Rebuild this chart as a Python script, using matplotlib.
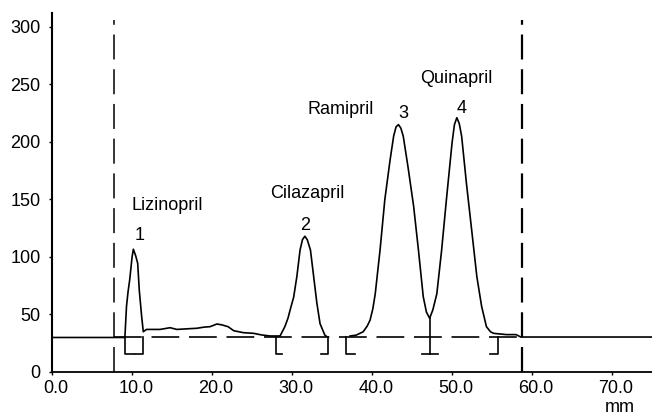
import numpy as np
import matplotlib
matplotlib.use("Agg")
import matplotlib.pyplot as plt
from matplotlib.transforms import ScaledTranslation

plt.rcParams['font.family'] = ['Liberation Sans', 'DejaVu Sans']
plt.rcParams['lines.scale_dashes'] = False

# Chromatogram trace (mm, signal); NaN breaks the trace
trace_x = [-0.05, 9.1, 9.3, 9.5, 9.7, 10.0, 10.16, 10.45, 10.7, 10.9, 11.2, 11.4, 11.8,
           12.5, 13.5, 14.75, 15.6, 16.8, 18.1, 19.0, 19.75, 20.6, 21.2, 22.0, 22.7,
           23.9, 25.2, 26.2, 27.25, 28.5, 29.1, 29.5, 29.8, 30.2, 30.6, 31.0, 31.3,
           31.6, 31.9, 32.3, 32.7, 33.1, 33.5, 34.1, 34.3, np.nan,
           37.25, 38.0, 38.9, 39.4, 39.75, 40.1, 40.4, 41.0, 41.6, 42.25, 42.7, 43.0,
           43.3, 43.6, 43.9, 44.5, 45.2, 45.8, 46.4, 46.8, 47.2, 47.6, 48.1, 48.7,
           49.3, 50.0, 50.3, 50.6, 50.9, 51.2, 51.8, 52.5, 53.1, 53.7, 54.3, 54.8,
           55.2, 56.8, 58.0, 58.6, 75.0]
trace_y = [30, 30, 57, 70, 80, 100, 106.7, 101, 94.5, 71, 48, 35, 37,
           37, 37, 38.5, 37, 37.5, 38, 39, 39.4, 41.7, 41, 39.4, 35.9,
           34.2, 33.6, 32.2, 31.3, 31.3, 39.4, 47, 55, 65, 83, 106, 115,
           118, 115, 106, 83, 60, 42, 32, 31, np.nan,
           31.3, 32, 35, 40, 45, 55, 68, 106, 150, 184, 205, 213,
           215, 212, 205, 178, 144, 106, 65.5, 52, 46.7, 54, 68, 106,
           150, 199, 215, 221, 216, 205, 164, 120.6, 83, 57, 39.4, 35,
           33.6, 32.5, 32.5, 30.4, 30.4]

baseline_level = 30
baseline_span = [7.8, 58.7]
marker_lines = [7.8, 58.7]

# integration brackets: (vertical x, foot end x)
bracket_x = [9.1, 11.4, 28.0, 34.5, 36.8, 55.7]
bracket_foot = [10.2, 10.4, 28.8, 33.6, 37.9, 54.75]
bracket_low = 16
valley_x = 47.2
valley_y = 46.7
valley_foot = [46.2, 48.2]

peak_names = ['Lizinopril', 'Cilazapril', 'Ramipril', 'Quinapril']
name_x = [14.4, 31.9, 36.1, 50.5]
name_y = [144.6, 155, 227.7, 255]
peak_nums = ['1', '2', '3', '4']
num_x = [11.0, 31.6, 43.9, 51.2]
num_y = [118.6, 127, 225, 229]

xticks = [0, 10, 20, 30, 40, 50, 60, 70]
xtick_labels = ['0.0', '10.0', '20.0', '30.0', '40.0', '50.0', '60.0', '70.0']
yticks = [0, 50, 100, 150, 200, 250, 300]

fig = plt.figure(figsize=(6.52, 4.16), dpi=100)
ax = fig.add_axes([51.7/652, 44/416, 1 - 51.7/652, 359/416])

ax.plot(trace_x, trace_y, color='black', lw=1.2, solid_joinstyle='round')
ax.plot(baseline_span, [baseline_level]*2, color='black', lw=1.2,
        dashes=(20, 7))
for xv, lw in zip(marker_lines, [1.1, 1.6]):
    ax.plot([xv, xv], [0, 306], color='black', lw=lw, dashes=(18, 7))

for xv, xf in zip(bracket_x, bracket_foot):
    ax.plot([xv, xv, xf], [baseline_level, bracket_low, bracket_low],
            color='black', lw=1.2)
ax.plot([valley_x, valley_x], [valley_y, bracket_low], color='black', lw=1.2)
ax.plot(valley_foot, [bracket_low]*2, color='black', lw=1.2)

for t, x, y in zip(peak_names, name_x, name_y):
    ax.text(x, y, t, fontsize=13, ha='center', va='center')
for t, x, y in zip(peak_nums, num_x, num_y):
    ax.text(x, y, t, fontsize=13, ha='center', va='center')

ax.set_xlim(-0.05, 75.0)
ax.set_ylim(0, 312)
ax.set_xticks(xticks)
ax.set_xticklabels(xtick_labels)
ax.set_yticks(yticks)
ax.tick_params(axis='both', labelsize=13, length=2.5, width=1, color='black')
ax.tick_params(axis='x', pad=3.5)
ax.tick_params(axis='y', pad=5.5)
off = ScaledTranslation(4/100, 0, fig.dpi_scale_trans)
for lab in ax.get_xticklabels():
    lab.set_transform(lab.get_transform() + off)

for s in ['top', 'right']:
    ax.spines[s].set_visible(False)
ax.spines['left'].set_linewidth(1.5)
ax.spines['bottom'].set_linewidth(1.3)

fig.text(620/652, 1 - 408/416, 'mm', fontsize=13, ha='center', va='center')

fig.savefig('out.png', dpi=100)
